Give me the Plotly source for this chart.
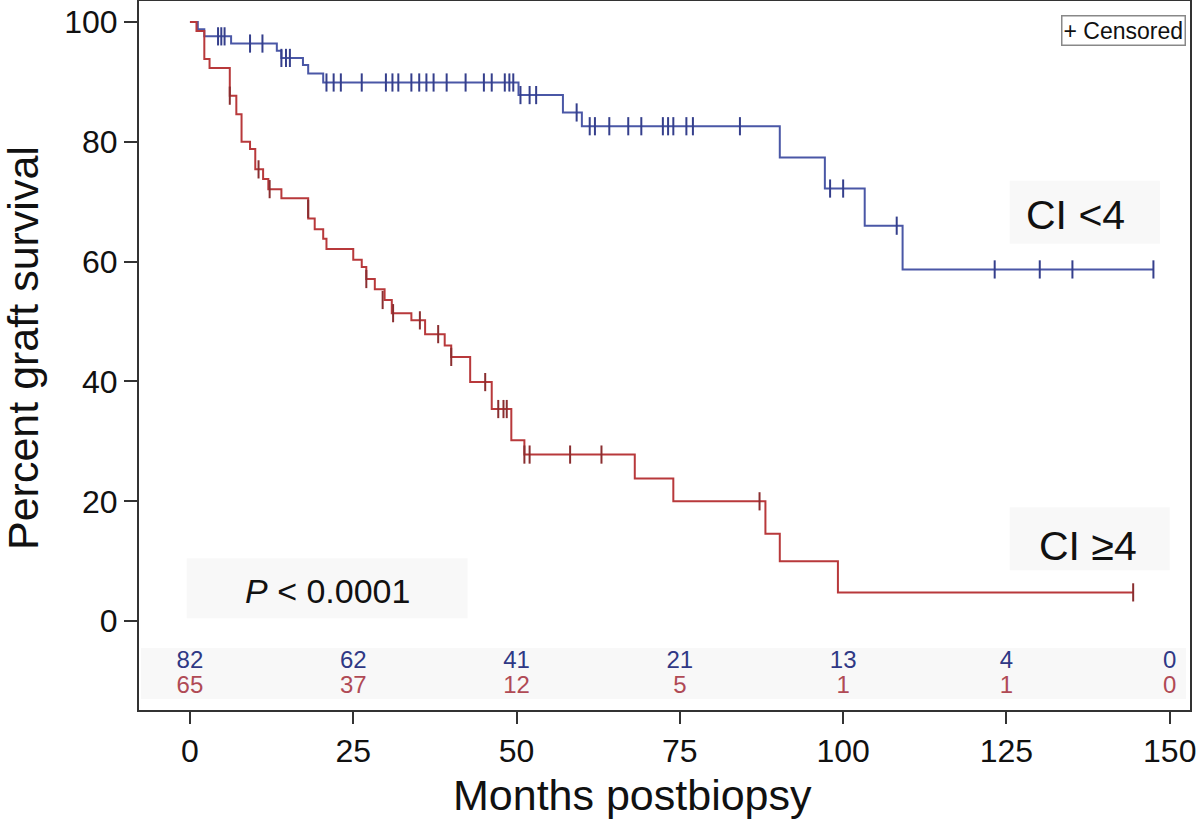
import plotly.graph_objects as go

# ---- data ----
# CI <4 (blue): event times (months) and survival (%) after each step
blue_times = [0, 1.2, 2.2, 6.3, 13.3, 14.0, 17.3, 18.1, 20.4, 50.3, 57.1, 60.0, 90.3, 97.2, 103.3, 109.1]
blue_surv = [100, 98.8, 97.6, 96.4, 95.2, 94.0, 92.8, 91.4, 89.9, 87.8, 84.9, 82.6, 77.4, 72.2, 66.0, 58.7]
blue_end = 147.5
blue_cens_t = [4.3, 4.8, 5.3, 9.2, 11.1, 14.0, 14.7, 15.3,
               20.9, 22.0, 23.1, 26.3, 30.0, 31.0, 31.9, 33.9, 35.1, 36.2, 37.3, 39.3, 42.2, 45.0, 46.2, 48.2, 48.9, 49.5,
               50.6, 52.0, 53.0, 59.2,
               61.2, 62.0, 64.2, 67.1, 69.1, 72.4, 73.2, 74.0, 76.0, 77.0, 84.2,
               98.0, 100.0, 108.2, 123.2, 130.1, 135.1, 147.5]
blue_cens_s = [97.6, 97.6, 97.6, 96.4, 96.4, 94.0, 94.0, 94.0,
               89.9, 89.9, 89.9, 89.9, 89.9, 89.9, 89.9, 89.9, 89.9, 89.9, 89.9, 89.9, 89.9, 89.9, 89.9, 89.9, 89.9, 89.9,
               87.8, 87.8, 87.8, 84.9,
               82.6, 82.6, 82.6, 82.6, 82.6, 82.6, 82.6, 82.6, 82.6, 82.6, 82.6,
               72.2, 72.2, 66.0, 58.7, 58.7, 58.7, 58.7]

# CI >=4 (red)
red_times = [0, 1.0, 2.2, 3.0, 6.1, 7.1, 7.9, 9.2, 10.0, 11.2, 12.0, 14.0, 18.1, 19.1, 20.4, 20.9,
             25.0, 26.3, 27.0, 28.3, 29.8, 30.9, 33.9, 36.0, 39.0, 40.0, 42.9, 46.2, 49.2, 51.2,
             68.1, 74.0, 88.1, 90.3, 99.2]
red_surv = [100, 98.5, 93.8, 92.3, 87.7, 84.6, 80.0, 78.8, 75.4, 73.8, 72.1, 70.6, 67.2, 65.4, 63.8, 62.1,
            60.3, 59.1, 57.1, 55.4, 53.6, 51.4, 50.2, 47.9, 46.0, 44.1, 39.9, 35.4, 30.2, 27.8,
            23.8, 20.0, 14.6, 10.0, 4.8]
red_end = 144.4
red_cens_t = [6.1, 10.5, 12.2, 18.1, 27.0, 29.5, 31.1, 35.2, 38.0, 40.0, 45.2, 47.2, 48.0, 48.5,
              51.2, 52.0, 58.2, 63.0, 87.2, 144.4]
red_cens_s = [87.7, 75.4, 72.1, 68.8, 57.1, 53.6, 51.4, 50.2, 47.9, 44.1, 39.9, 35.4, 35.4, 35.4,
              27.8, 27.8, 27.8, 27.8, 20.0, 4.8]

# numbers at risk
risk_times = [0, 25, 50, 75, 100, 125, 150]
risk_blue = [82, 62, 41, 21, 13, 4, 0]
risk_red = [65, 37, 12, 5, 1, 1, 0]

x_ticks = [0, 25, 50, 75, 100, 125, 150]
y_ticks = [0, 20, 40, 60, 80, 100]

BLUE = "#4a57a6"
BLUE_DARK = "#353f8c"
RED = "#b8393b"
RED_DARK = "#8a2e30"
RISK_BLUE = "#2f3885"
RISK_RED = "#b04a55"
FONT = "Liberation Sans, Arial, sans-serif"

# plot area in pixels: x 139..1190, y 1..710
L, R, T, B = 139, 10, 1, 124
PW = 1200 - L - R
PH = 834 - T - B


def px(xp):
    return (xp - L) / PW


def py(yp):
    return (834 - B - yp) / PH


fig = go.Figure()

# background boxes (very light)
box = "#f8f8f8"
fig.add_shape(type="rect", xref="x", yref="y", x0=-7.5, x1=152.5, y0=-13.0, y1=-4.5,
              fillcolor="#f8f8f8", line_width=0, layer="below")
fig.add_shape(type="rect", xref="x", yref="y", x0=-0.5, x1=42.5, y0=0.5, y1=10.5,
              fillcolor=box, line_width=0, layer="below")
fig.add_shape(type="rect", xref="x", yref="y", x0=125.5, x1=148.5, y0=63.0, y1=73.5,
              fillcolor=box, line_width=0, layer="below")
fig.add_shape(type="rect", xref="x", yref="y", x0=125.5, x1=150.0, y0=8.5, y1=19.0,
              fillcolor=box, line_width=0, layer="below")

fig.add_trace(go.Scatter(x=blue_times + [blue_end], y=blue_surv + [blue_surv[-1]],
                         mode="lines", line=dict(color=BLUE, width=2, shape="hv"),
                         name="CI <4", showlegend=False, hoverinfo="skip"))
fig.add_trace(go.Scatter(x=red_times + [red_end], y=red_surv + [red_surv[-1]],
                         mode="lines", line=dict(color=RED, width=2, shape="hv"),
                         name="CI ≥4", showlegend=False, hoverinfo="skip"))
fig.add_trace(go.Scatter(x=blue_cens_t, y=blue_cens_s, mode="markers",
                         marker=dict(symbol="line-ns-open", size=13, color=BLUE_DARK,
                                     line=dict(color=BLUE_DARK, width=2)),
                         showlegend=False, hoverinfo="skip"))
fig.add_trace(go.Scatter(x=red_cens_t, y=red_cens_s, mode="markers",
                         marker=dict(symbol="line-ns-open", size=13, color=RED_DARK,
                                     line=dict(color=RED_DARK, width=2)),
                         showlegend=False, hoverinfo="skip"))

# numbers at risk
fig.add_trace(go.Scatter(x=risk_times, y=[-6.8] * len(risk_times), mode="text",
                         text=[str(v) for v in risk_blue],
                         textfont=dict(color=RISK_BLUE, size=24, family=FONT),
                         showlegend=False, hoverinfo="skip"))
fig.add_trace(go.Scatter(x=risk_times, y=[-11.0] * len(risk_times), mode="text",
                         text=[str(v) for v in risk_red],
                         textfont=dict(color=RISK_RED, size=24, family=FONT),
                         showlegend=False, hoverinfo="skip"))

# labels
fig.add_annotation(x=135.5, y=67.8, xref="x", yref="y", text="CI <4", showarrow=False,
                   font=dict(size=41, color="#111", family=FONT))
fig.add_annotation(x=137.5, y=12.5, xref="x", yref="y", text="CI ≥4", showarrow=False,
                   font=dict(size=41, color="#111", family=FONT))
fig.add_annotation(x=21.0, y=5.0, xref="x", yref="y", text="<i>P</i> < 0.0001", showarrow=False,
                   font=dict(size=34, color="#111", family=FONT))
fig.add_annotation(x=px(1186), y=py(30), xref="paper", yref="paper", text="+ Censored", showarrow=False,
                   font=dict(size=23, color="#111", family=FONT),
                   bordercolor="#888", borderwidth=1.5, borderpad=1, bgcolor="white",
                   xanchor="right", yanchor="middle")

# axis titles
fig.add_annotation(x=px(632), y=py(795), xref="paper", yref="paper", text="Months postbiopsy",
                   xanchor="center", yanchor="middle",
                   showarrow=False, font=dict(size=43, color="#111", family=FONT))
fig.add_annotation(x=px(23), y=py(348), xref="paper", yref="paper", text="Percent graft survival",
                   xanchor="center", yanchor="middle",
                   textangle=-90, showarrow=False, font=dict(size=43, color="#111", family=FONT))

fig.update_layout(
    width=1200, height=834,
    margin=dict(l=L, r=R, t=T, b=B, autoexpand=False),
    paper_bgcolor="white", plot_bgcolor="white",
    font=dict(family=FONT, color="#111"),
    showlegend=False,
)

fig.update_xaxes(range=[-7.8, 153.1], tickvals=x_ticks, ticktext=[str(v) for v in x_ticks],
                 ticks="outside", ticklen=12, tickwidth=2, tickcolor="#333",
                 showline=True, linecolor="#333", linewidth=2, mirror=True,
                 showgrid=False, zeroline=False, automargin=False,
                 tickfont=dict(size=32, color="#111", family=FONT))
fig.update_yaxes(range=[-14.83, 103.5], tickvals=y_ticks, ticktext=[str(v) for v in y_ticks],
                 ticks="outside", ticklen=13, tickwidth=2, tickcolor="#333",
                 showline=True, linecolor="#333", linewidth=2, mirror=True,
                 showgrid=False, zeroline=False, automargin=False,
                 tickfont=dict(size=32, color="#111", family=FONT))

fig.write_html("out.html",
               config={"displayModeBar": False},
               post_script="document.body.style.margin='0px';document.body.style.overflow='hidden';")
